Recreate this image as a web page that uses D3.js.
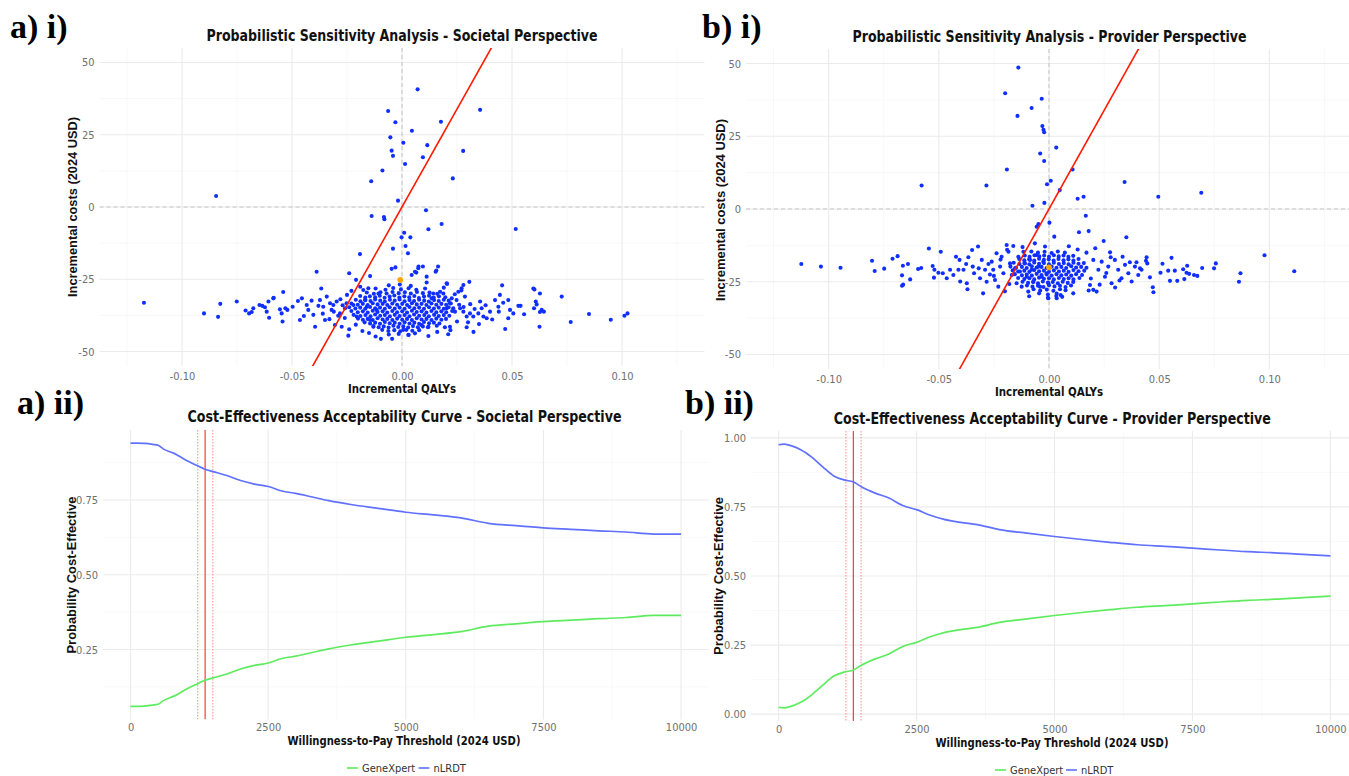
<!DOCTYPE html>
<html>
<head>
<meta charset="utf-8">
<script src="https://cdn.jsdelivr.net/npm/d3@7"></script>
<style>
body { margin: 0; background: #fff; }
svg { display: block; }
text { font-family: "Liberation Sans Narrow", "DejaVu Sans Condensed", "Arial Narrow", sans-serif; }
.serif { font-family: "Liberation Serif", "Times New Roman", serif; }
</style>
</head>
<body>
<div id="root"></div>
<script>
// ---- data ----
var wtp = 1355, wtpLow = 1220, wtpHigh = 1495;

var qalyTicks = [-0.10, -0.05, 0.00, 0.05, 0.10];
var qalyMinor = [-0.125, -0.075, -0.025, 0.025, 0.075, 0.125];
var costTicks = [-50, -25, 0, 25, 50];
var costMinor = [-37.5, -12.5, 12.5, 37.5];
var qalyLimits = [-0.125, 0.125];
var costLimits = [-50, 50];

var meanSocietal = [-0.0008, -25.2];
var meanProvider = [0.0000, -20.1];

// societal perspective: incremental QALYs, incremental costs
var psaSocietal = [
  [0.0071,40.7],[-0.0063,33.2],[0.0355,33.6],[-0.0030,29.3],[0.0177,29.5],[0.0045,26.4],[-0.0053,24.1],[0.0006,22.2],
  [0.0115,21.4],[-0.0047,19.5],[0.0278,19.4],[-0.0041,17.7],[0.0095,17.2],[0.0014,14.9],[-0.0089,12.6],[0.0231,9.9],
  [-0.0140,8.9],[-0.0845,3.8],[-0.0018,2.2],[0.0109,-1.1],[-0.0138,-3.1],[-0.0082,-3.5],[-0.0080,-4.2],[0.0180,-5.9],
  [0.0517,-7.6],[0.0120,-7.7],[0.0010,-8.9],[-0.0002,-10.5],[0.0038,-10.5],[0.0016,-13.5],[-0.0041,-14.4],[0.0027,-16.0],
  [-0.0191,-16.3],[0.0075,-20.6],[0.0095,-20.6],[0.0164,-20.6],[-0.0047,-21.4],[-0.0030,-20.9],[-0.0388,-22.4],[-0.0240,-22.9],
  [0.0065,-22.7],[-0.0145,-23.9],[0.0156,-22.0],[0.0306,-25.9],[0.0205,-26.6],[0.0455,-27.1],[0.0597,-28.2],[0.0726,-31.0],
  [-0.1173,-33.1],[-0.0367,-28.2],[-0.0540,-29.4],[-0.0583,-31.4],[-0.0751,-32.7],[-0.0826,-33.5],[-0.0900,-36.8],[-0.0836,-38.0],
  [0.0767,-39.8],[0.0850,-37.0],[0.0949,-39.0],[0.1011,-37.6],[0.1025,-36.8],[0.0627,-36.3],[0.0625,-41.4],[0.0469,-42.2],
  [0.0325,-43.2],[-0.0244,-44.5],[-0.0096,-45.6],[-0.0045,-45.6],
  [-0.0711,-35.8],[-0.0695,-36.8],[-0.0683,-36.3],[-0.0676,-35.0],[-0.0648,-33.9],[-0.0635,-34.2],[-0.0623,-34.7],[-0.0615,-36.2],
  [-0.0604,-38.3],[-0.0585,-31.6],[-0.0607,-32.7],[-0.0555,-35.4],[-0.0547,-36.8],[-0.0543,-39.6],[-0.0530,-35.0],[-0.0521,-35.6],
  [-0.0497,-34.5],[-0.0473,-32.5],[-0.0455,-31.6],[-0.0464,-39.1],[-0.0446,-37.7],[-0.0426,-35.6],[-0.0433,-33.9],[-0.0411,-32.4],
  [-0.0403,-37.3],[-0.0395,-41.4],[-0.0373,-32.2],[-0.0358,-34.5],[-0.0350,-39.1],[-0.0342,-31.0],[-0.0327,-33.3],[-0.0320,-35.6],
  [-0.0312,-33.9],[-0.0297,-32.7],[-0.0305,-40.8],[-0.0282,-36.8],[-0.0274,-41.4],[-0.0259,-35.0],[-0.0252,-33.3],[-0.0221,-33.9],
  [-0.0206,-37.9],[-0.0209,-25.2],[-0.0176,-28.7],[-0.0168,-32.2],[-0.0153,-28.1],[-0.0160,-34.5],[-0.0145,-39.1],[-0.0130,-41.4],
  [-0.0115,-35.6],[-0.0107,-29.9],
  [0.0074,-21.2],[0.0153,-22.4],[0.0044,-23.5],[0.0059,-22.4],[0.0112,-24.1],[0.0112,-26.1],[0.0203,-26.4],[0.0279,-27.0],
  [0.0271,-28.1],[0.0256,-29.3],[0.0286,-31.0],[0.0248,-32.2],[0.0226,-31.6],[0.0188,-29.9],[0.0173,-29.3],[0.0142,-29.9],
  [0.0135,-31.6],[0.0218,-33.3],[0.0203,-35.0],[0.0241,-36.2],[0.0264,-35.0],[0.0279,-36.2],[0.0294,-37.9],[0.0309,-36.8],
  [0.0324,-37.9],[0.0355,-32.7],[0.0362,-35.0],[0.0347,-36.8],[0.0370,-37.9],[0.0385,-38.5],[0.0400,-36.2],[0.0423,-32.2],
  [0.0438,-34.5],[0.0445,-30.4],[0.0483,-32.2],[0.0491,-35.6],[0.0483,-38.5],[0.0506,-36.8],[0.0529,-34.2],[0.0539,-34.2],
  [0.0555,-37.1],[0.0602,-28.5],[0.0627,-29.9],[0.0608,-32.7],[0.0612,-33.7],[0.0600,-35.0],[0.0635,-35.6],[0.0645,-36.2],
  [0.0294,-41.6],[0.0218,-41.4],[0.0195,-41.6],[0.0158,-41.1],[0.0120,-41.4],[0.0089,-40.8],[0.0059,-43.7],[0.0029,-44.3],
  [0.0006,-42.5],
  [-0.027,-34.0],[-0.026,-38.4],[-0.029,-37.6],[-0.031,-36.2],[-0.033,-38.8],[-0.036,-36.9],[-0.038,-34.2],[-0.028,-31.9],
  [-0.025,-30.4],[-0.023,-29.0],[-0.019,-27.6],[-0.021,-40.7],[-0.024,-42.3],[-0.018,-42.9],[-0.015,-43.6],[-0.012,-44.8],
  [0.024,-30.2],[0.026,-33.8],[0.025,-39.6],[0.022,-42.6],[0.028,-34.6],[0.031,-33.6],[0.033,-35.3],[0.030,-39.9],
  [0.027,-28.9],[0.019,-27.9],[0.021,-44.0],[0.016,-43.2],[0.012,-44.6],[0.035,-40.5],[0.038,-34.0],[0.041,-38.9],
  [0.044,-36.2],[0.046,-33.1],
  // dense core
  [-0.0060,-27.1],[-0.0010,-26.8],[0.0040,-27.3],
  [-0.0120,-28.2],[-0.0075,-28.6],[-0.0040,-28.0],[-0.0005,-28.5],[0.0030,-28.1],[0.0065,-28.6],[0.0105,-28.2],
  [-0.0160,-29.6],[-0.0128,-30.0],[-0.0098,-29.5],[-0.0070,-29.9],[-0.0043,-29.4],[-0.0015,-29.8],[0.0013,-29.5],[0.0040,-29.9],
  [0.0068,-29.4],[0.0095,-29.8],[0.0125,-29.6],[0.0160,-30.0],
  [-0.0190,-30.8],[-0.0167,-31.3],[-0.0146,-30.9],[-0.0122,-31.2],[-0.0101,-30.7],[-0.0079,-31.4],[-0.0056,-31.0],[-0.0035,-30.6],
  [-0.0012,-31.3],[0.0011,-30.9],[0.0033,-31.2],[0.0056,-30.8],[0.0077,-31.5],[0.0100,-31.0],[0.0123,-30.7],[0.0144,-31.3],
  [0.0168,-30.9],[0.0197,-31.2],
  [-0.0210,-32.1],[-0.0189,-32.6],[-0.0166,-32.2],[-0.0143,-32.5],[-0.0122,-32.0],[-0.0099,-32.4],[-0.0078,-32.7],[-0.0055,-32.1],
  [-0.0033,-32.4],[-0.0011,-32.0],[0.0012,-32.6],[0.0034,-32.2],[0.0055,-32.5],[0.0078,-32.1],[0.0101,-32.4],[0.0122,-32.7],
  [0.0146,-32.2],[0.0167,-32.5],[0.0190,-32.1],[0.0212,-32.4],
  [-0.0230,-33.4],[-0.0201,-33.8],[-0.0178,-33.5],[-0.0156,-33.9],[-0.0133,-33.3],[-0.0111,-33.7],[-0.0088,-33.5],[-0.0067,-33.9],
  [-0.0044,-33.4],[-0.0022,-33.8],[0.0001,-33.5],[0.0023,-33.9],[0.0045,-33.3],[0.0067,-33.7],[0.0089,-33.5],[0.0111,-33.9],
  [0.0134,-33.4],[0.0156,-33.8],[0.0179,-33.5],[0.0201,-33.8],[0.0222,-33.4],
  [-0.0240,-34.7],[-0.0212,-35.1],[-0.0190,-34.8],[-0.0167,-35.2],[-0.0145,-34.6],[-0.0122,-35.0],[-0.0100,-34.8],[-0.0078,-35.2],
  [-0.0056,-34.7],[-0.0033,-35.1],[-0.0011,-34.8],[0.0012,-35.2],[0.0034,-34.6],[0.0056,-35.0],[0.0078,-34.8],[0.0100,-35.2],
  [0.0123,-34.7],[0.0145,-35.1],[0.0167,-34.8],[0.0190,-35.2],[0.0212,-34.7],[0.0233,-35.0],
  [-0.0230,-36.0],[-0.0201,-36.4],[-0.0178,-36.1],[-0.0156,-36.5],[-0.0133,-35.9],[-0.0111,-36.3],[-0.0088,-36.1],[-0.0067,-36.5],
  [-0.0044,-36.0],[-0.0022,-36.4],[0.0001,-36.1],[0.0023,-36.5],[0.0045,-35.9],[0.0067,-36.3],[0.0089,-36.1],[0.0111,-36.5],
  [0.0134,-36.0],[0.0156,-36.4],[0.0179,-36.1],[0.0201,-36.4],[0.0228,-36.0],
  [-0.0220,-37.3],[-0.0189,-37.7],[-0.0166,-37.4],[-0.0143,-37.8],[-0.0122,-37.2],[-0.0099,-37.6],[-0.0078,-37.4],[-0.0055,-37.8],
  [-0.0033,-37.3],[-0.0011,-37.7],[0.0012,-37.4],[0.0034,-37.8],[0.0055,-37.2],[0.0078,-37.6],[0.0101,-37.4],[0.0122,-37.8],
  [0.0146,-37.3],[0.0167,-37.7],[0.0190,-37.4],[0.0215,-37.6],
  [-0.0200,-38.6],[-0.0178,-39.0],[-0.0156,-38.7],[-0.0133,-39.1],[-0.0111,-38.5],[-0.0088,-38.9],[-0.0067,-38.7],[-0.0044,-39.1],
  [-0.0022,-38.6],[0.0001,-39.0],[0.0023,-38.7],[0.0045,-39.1],[0.0067,-38.5],[0.0089,-38.9],[0.0111,-38.7],[0.0134,-39.1],
  [0.0156,-38.6],[0.0179,-39.0],[0.0200,-38.7],
  [-0.0170,-39.9],[-0.0145,-40.3],[-0.0122,-40.0],[-0.0100,-40.4],[-0.0078,-39.8],[-0.0056,-40.2],[-0.0033,-40.0],[-0.0011,-40.4],
  [0.0012,-39.9],[0.0034,-40.3],[0.0056,-40.0],[0.0078,-40.4],[0.0100,-39.8],[0.0123,-40.2],[0.0145,-40.0],[0.0170,-40.3],
  [-0.0130,-41.2],[-0.0106,-41.6],[-0.0083,-41.3],[-0.0061,-41.7],[-0.0039,-41.1],[-0.0017,-41.5],[0.0006,-41.3],[0.0028,-41.7],
  [0.0050,-41.2],[0.0072,-41.6],[0.0095,-41.3],[0.0118,-41.6],
  [-0.0090,-42.5],[-0.0062,-42.9],[-0.0035,-42.6],[-0.0008,-43.0],[0.0020,-42.5],[0.0047,-42.8],[0.0078,-42.6],
  [-0.0060,-44.1],[-0.0015,-43.9],[0.0030,-44.2]
];

// provider perspective: incremental QALYs, incremental costs
var psaProvider = [
  [-0.0139,48.6],[-0.0199,39.8],[-0.0033,37.9],[-0.0079,34.7],[-0.0143,32.0],[-0.0030,28.5],[-0.0025,27.2],[-0.0022,26.4],
  [0.0033,21.1],[-0.0040,19.1],[-0.0022,16.5],[-0.0191,13.6],[0.0107,13.6],[-0.0578,8.1],[-0.0284,8.1],[-0.0009,8.5],
  [0.0008,9.7],[0.0343,9.3],[0.0049,6.5],[0.0691,5.6],[0.0496,4.2],[0.0130,3.5],[0.0157,4.2],[-0.0021,2.1],
  [-0.0075,1.1],[0.0167,-2.3],[0.0002,-4.7],[-0.0048,-5.2],[-0.0056,-6.1],[0.0180,-7.6],[0.0136,-8.0],[0.0024,-9.5],
  [0.0248,-11.0],[0.0351,-9.7],
  [-0.1124,-18.9],[-0.1035,-19.8],[-0.0946,-20.2],[-0.0803,-17.8],[-0.0791,-21.3],[-0.0748,-20.5],[-0.0710,-17.1],[-0.0687,-16.2],
  [-0.0663,-19.5],[-0.0640,-18.9],[-0.0667,-22.8],[-0.0667,-26.4],[-0.0662,-26.0],[-0.0630,-24.2],[-0.0594,-20.6],[-0.0580,-20.3],
  [-0.0545,-13.6],[-0.0528,-19.6],[-0.0522,-23.6],[-0.0491,-14.7],[0.0978,-15.9],[0.1113,-21.4],[0.0862,-25.0],[0.0869,-22.1],
  [0.0695,-20.3],[0.0749,-20.4],[0.0757,-18.7],[0.0474,-28.6],[0.0471,-26.9],[0.0556,-16.8],[-0.0299,-29.0],[-0.0005,-30.5],
  [0.0033,-29.9],
  [-0.0520,-20.9],[-0.0502,-21.9],[-0.0482,-22.1],[-0.0464,-23.8],[-0.0449,-20.9],[-0.0434,-22.7],[-0.0422,-16.4],[-0.0411,-20.9],
  [-0.0406,-17.5],[-0.0403,-24.9],[-0.0388,-20.9],[-0.0376,-18.9],[-0.0373,-25.5],[-0.0370,-27.6],[-0.0366,-16.6],[-0.0349,-14.1],
  [-0.0346,-19.8],[-0.0340,-22.1],[-0.0322,-12.9],[-0.0319,-20.4],[-0.0313,-23.8],[-0.0305,-17.5],[-0.0290,-20.9],[-0.0283,-25.0],
  [-0.0275,-18.9],[-0.0268,-22.5],[-0.0260,-18.1],[-0.0253,-20.9],[-0.0245,-24.4],[-0.0238,-15.2],[-0.0230,-26.7],[-0.0222,-19.8],
  [-0.0215,-16.4],[-0.0207,-22.1],[-0.0192,-12.4],[-0.0184,-14.7],[-0.0177,-18.7],[-0.0169,-22.7],[-0.0162,-12.7],[-0.0154,-20.4],
  [-0.0147,-25.5],[-0.0139,-16.4],[-0.0132,-21.5],[-0.0124,-26.7],[-0.0116,-14.7],[-0.0109,-18.7],[-0.0101,-23.3],[-0.0094,-28.4],
  [-0.0086,-17.5],[-0.0079,-20.9],[-0.0071,-25.0],[-0.0064,-11.8],[-0.0056,-15.8],[-0.0048,-19.8],[-0.0041,-26.7],[-0.0033,-23.3],
  [-0.0026,-18.1],[-0.0018,-12.9],[-0.0011,-22.1],[-0.0003,-25.5],
  [0.0277,-14.9],[0.0334,-16.4],[0.0367,-18.3],[0.0397,-18.3],[0.0443,-16.6],[0.0446,-18.7],[0.0440,-17.8],[0.0420,-20.9],
  [0.0413,-20.4],[0.0458,-23.5],[0.0515,-18.8],[0.0506,-21.9],[0.0541,-21.2],[0.0571,-21.2],[0.0549,-24.7],[0.0582,-24.7],
  [0.0609,-20.7],[0.0627,-19.5],[0.0624,-21.9],[0.0614,-24.1],[0.0636,-22.3],[0.0658,-22.7],[0.0673,-23.0],[0.0201,-17.5],
  [0.0224,-20.9],[0.0239,-18.1],[0.0254,-23.3],[0.0269,-19.8],[0.0284,-25.5],[0.0299,-17.5],[0.0314,-20.9],[0.0329,-23.8],
  [0.0345,-19.2],[0.0360,-22.1],[0.0375,-24.9],[0.0390,-19.8],[0.0405,-22.7],[0.0201,-27.8],[0.0216,-28.4],[0.0186,-26.1],
  [0.0110,-29.0],[0.0053,-29.6],[-0.0003,-30.7],[0.0035,-30.7],
  [0.017,-15.0],[0.019,-23.9],[0.021,-13.5],[0.023,-26.0],[0.018,-28.0],[0.026,-22.0],[0.028,-16.6],[0.032,-24.6],
  [0.030,-27.0],[-0.018,-25.8],[-0.020,-28.3],[-0.022,-17.4],[-0.025,-23.0],[-0.019,-14.0],[-0.012,-13.1],[0.009,-12.8],
  [0.013,-13.9],[-0.009,-30.0],[0.006,-30.2],
  // dense core
  [-0.0080,-14.6],[-0.0050,-15.0],[-0.0020,-14.7],[0.0012,-15.1],[0.0040,-14.6],[0.0072,-15.0],
  [-0.0110,-16.0],[-0.0088,-16.4],[-0.0066,-15.9],[-0.0044,-16.3],[-0.0022,-16.0],[0.0000,-16.4],[0.0022,-15.9],[0.0044,-16.3],
  [0.0066,-16.0],[0.0088,-16.4],[0.0110,-16.1],
  [-0.0135,-17.2],[-0.0112,-17.6],[-0.0090,-17.3],[-0.0067,-17.7],[-0.0045,-17.1],[-0.0023,-17.5],[-0.0001,-17.3],[0.0021,-17.7],
  [0.0043,-17.2],[0.0066,-17.6],[0.0088,-17.3],[0.0111,-17.7],[0.0134,-17.2],
  [-0.0160,-18.5],[-0.0134,-18.9],[-0.0112,-18.6],[-0.0089,-19.0],[-0.0067,-18.4],[-0.0045,-18.8],[-0.0023,-18.6],[0.0000,-19.0],
  [0.0022,-18.5],[0.0045,-18.9],[0.0067,-18.6],[0.0089,-19.0],[0.0111,-18.5],[0.0134,-18.8],[0.0158,-18.6],
  [-0.0175,-19.8],[-0.0150,-20.2],[-0.0123,-19.9],[-0.0101,-20.3],[-0.0078,-19.7],[-0.0056,-20.1],[-0.0034,-19.9],[-0.0011,-20.3],
  [0.0012,-19.8],[0.0034,-20.2],[0.0056,-19.9],[0.0078,-20.3],[0.0101,-19.7],[0.0123,-20.1],[0.0146,-19.9],[0.0170,-20.2],
  [-0.0165,-21.1],[-0.0140,-21.5],[-0.0112,-21.2],[-0.0089,-21.6],[-0.0067,-21.0],[-0.0045,-21.4],[-0.0023,-21.2],[0.0000,-21.6],
  [0.0022,-21.1],[0.0045,-21.5],[0.0067,-21.2],[0.0089,-21.6],[0.0111,-21.0],[0.0134,-21.4],[0.0160,-21.2],
  [-0.0155,-22.4],[-0.0123,-22.8],[-0.0101,-22.5],[-0.0078,-22.9],[-0.0056,-22.3],[-0.0034,-22.7],[-0.0011,-22.5],[0.0012,-22.9],
  [0.0034,-22.4],[0.0056,-22.8],[0.0078,-22.5],[0.0101,-22.9],[0.0123,-22.4],[0.0150,-22.7],
  [-0.0140,-23.7],[-0.0112,-24.1],[-0.0089,-23.8],[-0.0067,-24.2],[-0.0045,-23.6],[-0.0023,-24.0],[0.0000,-23.8],[0.0022,-24.2],
  [0.0045,-23.7],[0.0067,-24.1],[0.0089,-23.8],[0.0111,-24.2],[0.0138,-23.7],
  [-0.0120,-25.0],[-0.0095,-25.4],[-0.0072,-25.1],[-0.0050,-25.5],[-0.0028,-24.9],[-0.0005,-25.3],[0.0017,-25.1],[0.0040,-25.5],
  [0.0062,-25.0],[0.0085,-25.4],[0.0110,-25.1],
  [-0.0100,-26.3],[-0.0075,-26.7],[-0.0050,-26.4],[-0.0025,-26.8],[0.0000,-26.2],[0.0025,-26.6],[0.0050,-26.4],[0.0075,-26.8],
  [0.0100,-26.3],
  [-0.0070,-27.6],[-0.0040,-28.0],[-0.0010,-27.7],[0.0020,-28.1],[0.0050,-27.6],[0.0075,-27.9],
  [-0.0045,-29.0],[-0.0005,-29.4],[0.0035,-29.1]
];

// CEAC: willingness-to-pay grid and probability cost-effective
var wtpGrid = [0, 100, 250, 400, 500, 600, 800, 1000, 1200, 1350, 1500, 1750, 2000, 2250, 2500, 2750,
  3000, 3300, 3600, 4000, 4500, 5000, 5500, 6000, 6500, 7000, 7500, 8000, 8500, 9000, 9500, 10000];
var societalNLRDT = [0.940, 0.940, 0.939, 0.936, 0.933, 0.920, 0.905, 0.884, 0.866, 0.853, 0.845, 0.832, 0.815, 0.803, 0.795, 0.780,
  0.772, 0.760, 0.748, 0.735, 0.722, 0.709, 0.700, 0.690, 0.672, 0.664, 0.657, 0.652, 0.647, 0.643, 0.636, 0.636];
var societalGeneXpert = [0.060, 0.060, 0.061, 0.064, 0.067, 0.080, 0.095, 0.116, 0.134, 0.147, 0.155, 0.168, 0.185, 0.197, 0.205, 0.220,
  0.228, 0.240, 0.252, 0.265, 0.278, 0.291, 0.300, 0.310, 0.328, 0.336, 0.343, 0.348, 0.353, 0.357, 0.364, 0.364];
var providerNLRDT = [0.975, 0.977, 0.970, 0.957, 0.945, 0.930, 0.895, 0.862, 0.847, 0.841, 0.823, 0.800, 0.782, 0.755, 0.740, 0.720,
  0.705, 0.694, 0.686, 0.668, 0.655, 0.643, 0.632, 0.622, 0.613, 0.607, 0.601, 0.594, 0.588, 0.584, 0.578, 0.573];
var providerGeneXpert = [0.025, 0.023, 0.030, 0.043, 0.055, 0.070, 0.105, 0.138, 0.153, 0.159, 0.177, 0.200, 0.218, 0.245, 0.260, 0.280,
  0.295, 0.306, 0.314, 0.332, 0.345, 0.357, 0.368, 0.378, 0.387, 0.393, 0.399, 0.406, 0.412, 0.416, 0.422, 0.427];
var wtpTicks = [0, 2500, 5000, 7500, 10000];
var wtpMinor = [1250, 3750, 6250, 8750];
var probTicks = [0, 0.25, 0.5, 0.75, 1];
var probMinor = [0.125, 0.375, 0.625, 0.875];
var strategies = ["GeneXpert", "nLRDT"];

// ---- drawing ----
var w = 1349, h = 776;
var svg = d3.select("#root").append("svg").attr("width", w).attr("height", h);
svg.append("rect").attr("width", w).attr("height", h).attr("fill", "white");
var defs = svg.append("defs");

var gridMajor = "#ebebeb", gridMinor = "#f3f3f3";
var tickColor = "#707070";
var ptColor = "#0f2eff";
var lineBlue = "#6071ff", lineGreen = "#5eec5e";

// ggplot style 5% expansion
function expand(ext) {
  var pad = (ext[1] - ext[0]) * 0.05;
  return [ext[0] - pad, ext[1] + pad];
}

function addClip(id, p) {
  defs.append("clipPath").attr("id", id).append("rect")
    .attr("x", p.left).attr("y", p.top)
    .attr("width", p.right - p.left).attr("height", p.bottom - p.top);
  return "url(#" + id + ")";
}

function drawGrid(g, x, y, p, xMaj, xMin, yMaj, yMin) {
  var inX = function(d) { var v = x(d); return v >= p.left && v <= p.right; };
  var inY = function(d) { var v = y(d); return v >= p.top && v <= p.bottom; };
  g.selectAll(".gxmin").data(xMin.filter(inX)).enter().append("line")
    .attr("x1", x).attr("x2", x).attr("y1", p.top).attr("y2", p.bottom)
    .attr("stroke", gridMinor).attr("stroke-width", 0.6);
  g.selectAll(".gymin").data(yMin.filter(inY)).enter().append("line")
    .attr("y1", y).attr("y2", y).attr("x1", p.left).attr("x2", p.right)
    .attr("stroke", gridMinor).attr("stroke-width", 0.6);
  g.selectAll(".gxmaj").data(xMaj.filter(inX)).enter().append("line")
    .attr("x1", x).attr("x2", x).attr("y1", p.top).attr("y2", p.bottom)
    .attr("stroke", gridMajor).attr("stroke-width", 1.1);
  g.selectAll(".gymaj").data(yMaj.filter(inY)).enter().append("line")
    .attr("y1", y).attr("y2", y).attr("x1", p.left).attr("x2", p.right)
    .attr("stroke", gridMajor).attr("stroke-width", 1.1);
}

function styleAxis(a) {
  a.select(".domain").remove();
  a.selectAll("text").attr("fill", tickColor).style("font-size", "11px");
}

function drawTitles(p) {
  svg.append("text").attr("x", p.titleX).attr("y", p.titleY).attr("text-anchor", "middle")
    .attr("textLength", p.titleLen).attr("lengthAdjust", "spacingAndGlyphs")
    .style("font-size", "15.5px").style("font-weight", "bold").attr("fill", "#111").text(p.title);
  svg.append("text").attr("x", p.xLabX).attr("y", p.xLabY).attr("text-anchor", "middle")
    .attr("textLength", p.xLabLen).attr("lengthAdjust", "spacingAndGlyphs")
    .style("font-size", "12.5px").style("font-weight", "bold").attr("fill", "#111").text(p.xLab);
  svg.append("text").attr("transform", "translate(" + p.yLabX + "," + p.yLabY + ") rotate(-90)")
    .attr("text-anchor", "middle")
    .attr("textLength", p.yLabLen).attr("lengthAdjust", "spacingAndGlyphs")
    .style("font-size", "12.5px").style("font-weight", "bold").attr("fill", "#111")
    .style("font-family", "'Liberation Sans', Arial, sans-serif").text(p.yLab);
  svg.append("text").attr("class", "serif").attr("x", p.tagX).attr("y", p.tagY)
    .style("font-size", "34px").style("font-weight", "bold").attr("fill", "#000").text(p.tag);
}

function drawPsa(p, pts, mean) {
  var x = d3.scaleLinear().domain(expand(qalyLimits)).range([p.left, p.right]);
  var y = d3.scaleLinear().domain(expand(costLimits)).range([p.bottom, p.top]);
  var g = svg.append("g");
  drawGrid(g, x, y, p, qalyTicks, qalyMinor, costTicks, costMinor);

  var inner = g.append("g").attr("clip-path", addClip(p.id, p));
  // zero reference lines
  inner.append("line").attr("x1", p.left).attr("x2", p.right).attr("y1", y(0)).attr("y2", y(0))
    .attr("stroke", "#c4c4c4").attr("stroke-width", 1).attr("stroke-dasharray", "4,3");
  inner.append("line").attr("x1", x(0)).attr("x2", x(0)).attr("y1", p.top).attr("y2", p.bottom)
    .attr("stroke", "#c4c4c4").attr("stroke-width", 1).attr("stroke-dasharray", "4,3");

  inner.selectAll(".pt").data(pts).enter().append("circle")
    .attr("cx", function(d) { return x(d[0]); })
    .attr("cy", function(d) { return y(d[1]); })
    .attr("r", 2.05).attr("fill", ptColor);

  // willingness-to-pay threshold line
  var qd = x.domain();
  inner.append("line")
    .attr("x1", x(qd[0])).attr("y1", y(qd[0] * wtp))
    .attr("x2", x(qd[1])).attr("y2", y(qd[1] * wtp))
    .attr("stroke", "#ff1a00").attr("stroke-width", 1.6);

  inner.append("circle").attr("cx", x(mean[0])).attr("cy", y(mean[1])).attr("r", 2.9).attr("fill", "#ffa500");

  g.append("g").attr("transform", "translate(0," + p.bottom + ")")
    .call(d3.axisBottom(x).tickValues(qalyTicks).tickSize(0).tickPadding(p.xPad)
      .tickFormat(function(d) { return d.toFixed(2); }))
    .call(styleAxis);
  g.append("g").attr("transform", "translate(" + p.left + ",0)")
    .call(d3.axisLeft(y).tickValues(costTicks).tickSize(0).tickPadding(5)
      .tickFormat(function(d) { return String(d); }))
    .call(styleAxis);
  drawTitles(p);
}

function drawCeac(p, gx, nl) {
  var x = d3.scaleLinear().domain(expand(d3.extent(wtpGrid))).range([p.left, p.right]);
  var y = d3.scaleLinear().domain(expand(d3.extent(gx.concat(nl)))).range([p.bottom, p.top]);
  var g = svg.append("g");
  drawGrid(g, x, y, p, wtpTicks, wtpMinor, probTicks, probMinor);
  var inner = g.append("g").attr("clip-path", addClip(p.id, p));

  inner.selectAll(".wtpci").data([wtpLow, wtpHigh]).enter().append("line")
    .attr("x1", x).attr("x2", x).attr("y1", p.top).attr("y2", p.bottom)
    .attr("stroke", "#ff8080").attr("stroke-width", 0.9).attr("stroke-dasharray", "1.5,1.5");
  inner.append("line").attr("x1", x(wtp)).attr("x2", x(wtp)).attr("y1", p.top).attr("y2", p.bottom)
    .attr("stroke", "#ff3b30").attr("stroke-width", 1.2);

  var line = d3.line().curve(d3.curveMonotoneX)
    .x(function(d, i) { return x(wtpGrid[i]); })
    .y(function(d) { return y(d); });
  inner.append("path").datum(gx).attr("d", line).attr("fill", "none")
    .attr("stroke", lineGreen).attr("stroke-width", 1.7);
  inner.append("path").datum(nl).attr("d", line).attr("fill", "none")
    .attr("stroke", lineBlue).attr("stroke-width", 1.7);

  g.append("g").attr("transform", "translate(0," + p.bottom + ")")
    .call(d3.axisBottom(x).tickValues(wtpTicks).tickSize(0).tickPadding(p.xPad)
      .tickFormat(function(d) { return String(d); }))
    .call(styleAxis);
  g.append("g").attr("transform", "translate(" + p.left + ",0)")
    .call(d3.axisLeft(y).tickValues(probTicks.filter(function(d) { return y(d) <= p.bottom && y(d) >= p.top; }))
      .tickSize(0).tickPadding(5)
      .tickFormat(function(d) { return d.toFixed(2); }))
    .call(styleAxis);

  // legend
  var lg = svg.append("g").attr("transform", "translate(" + p.legX + "," + p.legY + ")");
  var keys = [{ name: strategies[0], color: lineGreen, dx: 0 }, { name: strategies[1], color: lineBlue, dx: p.legGap }];
  keys.forEach(function(k) {
    lg.append("line").attr("x1", k.dx).attr("x2", k.dx + 11).attr("y1", 0).attr("y2", 0)
      .attr("stroke", k.color).attr("stroke-width", 1.6);
    lg.append("text").attr("x", k.dx + 15).attr("y", 4).style("font-size", "11px").attr("fill", "#333").text(k.name);
  });
  drawTitles(p);
}

drawPsa({
  id: "ai", left: 99.5, right: 704.5, top: 48, bottom: 366, xPad: 6,
  title: "Probabilistic Sensitivity Analysis - Societal Perspective", titleX: 402, titleY: 41, titleLen: 391,
  xLab: "Incremental QALYs", xLabX: 402, xLabY: 393, xLabLen: 108,
  yLab: "Incremental costs (2024 USD)", yLabX: 76.5, yLabY: 207, yLabLen: 180,
  tag: "a) i)", tagX: 10, tagY: 38
}, psaSocietal, meanSocietal);

drawPsa({
  id: "bi", left: 746, right: 1352, top: 49, bottom: 369, xPad: 6,
  title: "Probabilistic Sensitivity Analysis - Provider Perspective", titleX: 1049.5, titleY: 42, titleLen: 394,
  xLab: "Incremental QALYs", xLabX: 1049, xLabY: 396, xLabLen: 108,
  yLab: "Incremental costs (2024 USD)", yLabX: 724.5, yLabY: 210, yLabLen: 182,
  tag: "b) i)", tagX: 702, tagY: 38
}, psaProvider, meanProvider);

drawCeac({
  id: "aii", left: 103, right: 708.6, top: 430, bottom: 719.5, xPad: 4,
  title: "Cost-Effectiveness Acceptability Curve - Societal Perspective", titleX: 404.5, titleY: 422, titleLen: 434,
  xLab: "Willingness-to-Pay Threshold (2024 USD)", xLabX: 404, xLabY: 745, xLabLen: 233,
  yLab: "Probability Cost-Effective", yLabX: 75.5, yLabY: 575, yLabLen: 157,
  tag: "a) ii)", tagX: 17, tagY: 414,
  legX: 347, legY: 768, legGap: 71.5
}, societalGeneXpert, societalNLRDT);

drawCeac({
  id: "bii", left: 751, right: 1358, top: 431, bottom: 721, xPad: 4,
  title: "Cost-Effectiveness Acceptability Curve - Provider Perspective", titleX: 1052.3, titleY: 424, titleLen: 437,
  xLab: "Willingness-to-Pay Threshold (2024 USD)", xLabX: 1052, xLabY: 746.5, xLabLen: 233,
  yLab: "Probability Cost-Effective", yLabX: 723, yLabY: 576, yLabLen: 158,
  tag: "b) ii)", tagX: 685, tagY: 414,
  legX: 995, legY: 770, legGap: 71
}, providerGeneXpert, providerNLRDT);
</script>
</body>
</html>
